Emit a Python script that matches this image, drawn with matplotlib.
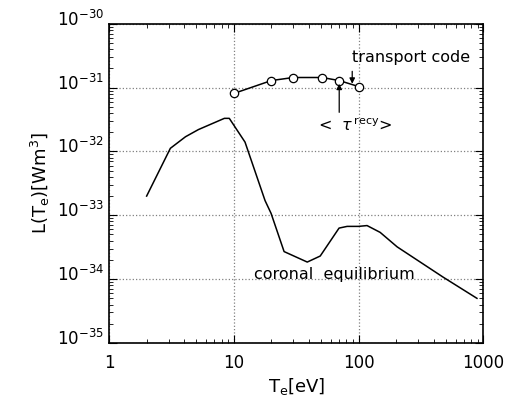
import matplotlib
matplotlib.use("Agg")
import matplotlib.pyplot as plt
import matplotlib.transforms as mtransforms
from matplotlib.ticker import LogLocator, NullFormatter

plt.rcParams['font.family'] = ['DejaVu Sans']

# coronal equilibrium cooling rate
corona_T = [2.0, 3.1, 4.1, 5.2, 8.4, 9.2, 12.3, 17.8, 19.9, 25.3, 38.8, 49.3,
            69.8, 81, 100, 117, 149, 204, 478, 890]
corona_L = [2.0e-33, 1.12e-32, 1.7e-32, 2.2e-32, 3.3e-32, 3.3e-32, 1.4e-32,
            1.7e-33, 1.07e-33, 2.7e-34, 1.85e-34, 2.3e-34, 6.3e-34, 6.7e-34,
            6.7e-34, 6.9e-34, 5.4e-34, 3.2e-34, 1.07e-34, 5.0e-35]

# transport code results
transport_T = [10, 20, 30, 51, 70, 100]
transport_L = [8.1e-32, 1.29e-31, 1.44e-31, 1.44e-31, 1.29e-31, 1.04e-31]

y_ticks = [1e-35, 1e-34, 1e-33, 1e-32, 1e-31, 1e-30]
y_ticklabels = [r'10$^{-35}$', r'10$^{-34}$', r'10$^{-33}$', r'10$^{-32}$',
                r'10$^{-31}$', r'10$^{-30}$']
x_ticks = [1, 10, 100, 1000]
x_ticklabels = ['1', '10', '100', '1000']

fig = plt.figure(figsize=(5.27, 4.03), dpi=100)
ax = fig.add_axes([0.207, 0.149, 0.710, 0.792])

ax.plot(corona_T, corona_L, color='black', lw=1.1)
ax.plot(transport_T, transport_L, color='black', lw=1.1, marker='o',
        markersize=6, markerfacecolor='white', markeredgewidth=0.9)

ax.set_xscale('log')
ax.set_yscale('log')
ax.set_xlim(1, 1000)
ax.set_ylim(1e-35, 1e-30)

ax.set_yticks(y_ticks)
ax.set_yticklabels(y_ticklabels)
ax.yaxis.set_minor_locator(LogLocator(base=10, subs=range(2, 10), numticks=20))
ax.yaxis.set_minor_formatter(NullFormatter())
ax.set_xticks(x_ticks)
ax.set_xticklabels(x_ticklabels)
ax.xaxis.set_minor_locator(LogLocator(base=10, subs=range(2, 10), numticks=20))
ax.xaxis.set_minor_formatter(NullFormatter())

ax.grid(True, which='major', color='gray', linestyle=':', lw=0.9)
ax.tick_params(which='both', direction='in', top=True, right=True,
               labelsize=12)
ax.tick_params(which='major', length=6)
ax.tick_params(which='minor', length=3)
ax.tick_params(axis='x', pad=8)
for spine in ax.spines.values():
    spine.set_linewidth(1.2)

# y labels sit a little above their ticks
offset = mtransforms.ScaledTranslation(0, 6 / 100, fig.dpi_scale_trans)
for lbl in ax.get_yticklabels():
    lbl.set_transform(lbl.get_transform() + offset)

ax.set_xlabel(r'T$_\mathrm{e}$[eV]', fontsize=13, labelpad=3)
ax.set_ylabel(r'L(T$_\mathrm{e}$)[Wm$^3$]', fontsize=13, labelpad=4)

ax.annotate('', xy=(89, 1.15e-31), xytext=(89, 1.8e-31),
            arrowprops=dict(arrowstyle='-|>', color='black', lw=0.9,
                            shrinkA=0, shrinkB=0, mutation_scale=8))
ax.text(89, 3.0e-31, 'transport code', fontsize=11.5, ha='left',
        va='center')
ax.annotate('', xy=(70, 1.15e-31), xytext=(70, 4.1e-32),
            arrowprops=dict(arrowstyle='-|>', color='black', lw=0.9,
                            shrinkA=0, shrinkB=0, mutation_scale=8))
ax.text(47, 2.6e-32, r'<  $\tau^{\,\mathrm{recy}}$>', fontsize=11.5,
        ha='left', va='center')
ax.text(14.5, 1.2e-34, 'coronal  equilibrium', fontsize=11.5,
        ha='left', va='center')

fig.savefig('out.png', dpi=100)
